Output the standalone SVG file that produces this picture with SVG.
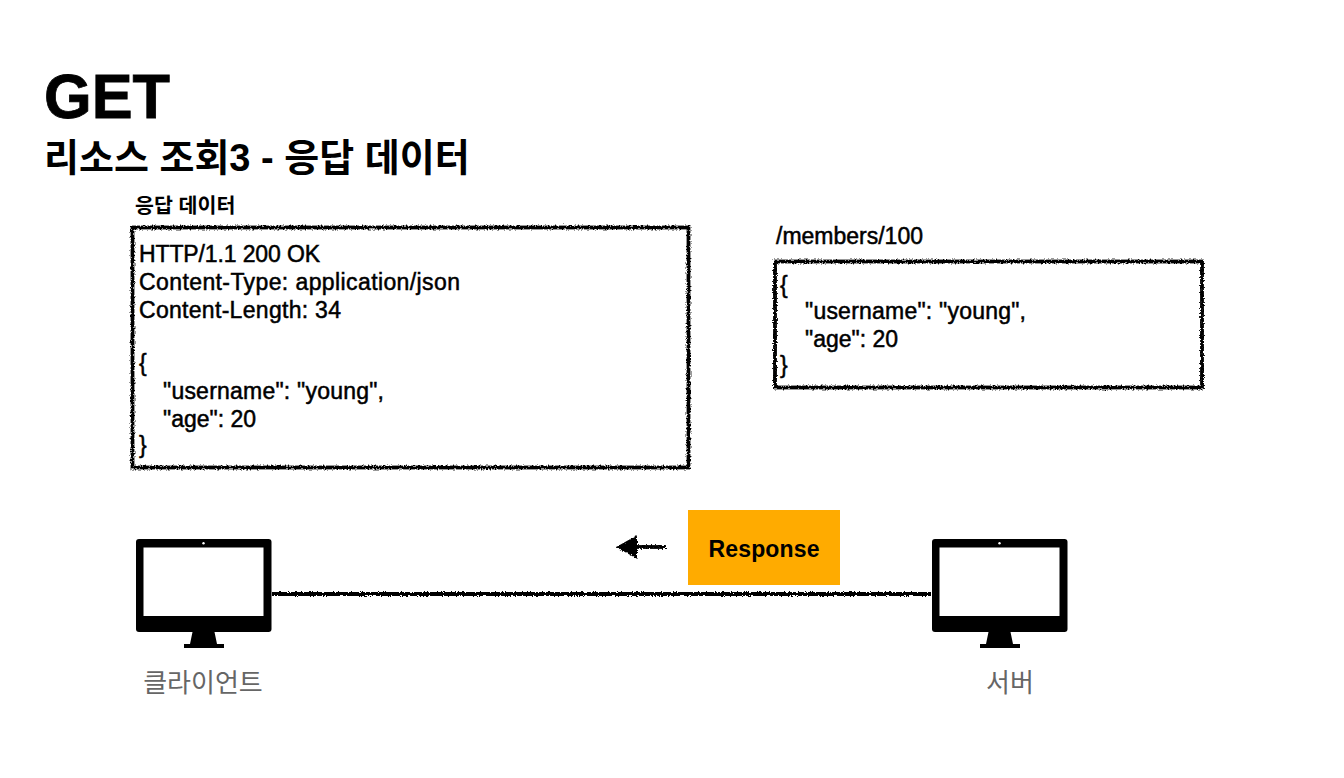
<svg xmlns="http://www.w3.org/2000/svg" width="1344" height="778" viewBox="0 0 1344 778">
<style>
text{font-family:"Liberation Sans","Noto Sans CJK KR",sans-serif;fill:#000}
.b{font-size:23px;stroke:#000;stroke-width:.5px}
.sk{fill:none;stroke:#000;stroke-width:3.8;filter:url(#rough)}
.lab{font-size:26px;fill:#666}
</style>
<defs>
<filter id="rough" x="0" y="0" width="1344" height="778" filterUnits="userSpaceOnUse" primitiveUnits="userSpaceOnUse">
<feTurbulence type="fractalNoise" baseFrequency="0.6" numOctaves="2" seed="4"/>
<feDisplacementMap in="SourceGraphic" scale="4" xChannelSelector="R" yChannelSelector="G"/>
</filter>
<g id="mon">
<rect x="0" y="0" width="135.500" height="93" rx="3" fill="#000"/>
<rect x="7.500" y="8.500" width="120" height="68.500" fill="#fff"/>
<circle cx="67.500" cy="4.300" r="1.200" fill="#fff"/>
<path d="M56.500 93H78.500L81 105H88V109H48V105H54Z" fill="#000"/>
</g>
</defs>
<rect width="1344" height="778" fill="#fff"/>
<g id="title">
<text x="44" y="118" font-size="63" font-weight="700" stroke="#000" stroke-width=".8" textLength="126" lengthAdjust="spacingAndGlyphs">GET</text>
<text x="44" y="171" font-size="38" font-weight="700">리소스 조회3 - 응답 데이터</text>
</g>
<g id="connectors">
<path class="sk" d="M272 594H931"/>
<path class="sk" d="M666 547H636"/>
<path d="M618 547L636 537V557Z" fill="#000" stroke="#000" stroke-width="2" style="filter:url(#rough)"/>
</g>
<g id="data-box">
<text x="135" y="213" font-size="20.600" font-weight="700">응답 데이터</text>
<rect class="sk" x="132.500" y="227.500" width="556" height="240"/>
<text class="b" x="139" y="262" textLength="181">HTTP/1.1 200 OK</text>
<text class="b" x="139" y="290" textLength="321">Content-Type: application/json</text>
<text class="b" x="139" y="318" textLength="202">Content-Length: 34</text>
<text class="b" x="139" y="371">{</text>
<text class="b" x="163" y="399" textLength="221">"username": "young",</text>
<text class="b" x="163" y="427" textLength="93">"age": 20</text>
<text class="b" x="139" y="453">}</text>
</g>
<g id="members-box">
<text class="b" x="776" y="244" textLength="147">/members/100</text>
<rect class="sk" x="775" y="261.500" width="427" height="126"/>
<text class="b" x="780" y="293">{</text>
<text class="b" x="805" y="319" textLength="221">"username": "young",</text>
<text class="b" x="805" y="347" textLength="93">"age": 20</text>
<text class="b" x="780" y="373">}</text>
</g>
<g id="response">
<rect x="688" y="510" width="152" height="75" fill="#ffab00"/>
<text x="764" y="557" font-size="23" font-weight="700" text-anchor="middle" textLength="111">Response</text>
</g>
<g id="client">
<use href="#mon" x="136" y="539"/>
<text class="lab" x="203" y="692" text-anchor="middle">클라이언트</text>
</g>
<g id="server">
<use href="#mon" x="932" y="539"/>
<text class="lab" x="1010" y="692" text-anchor="middle">서버</text>
</g>
</svg>
